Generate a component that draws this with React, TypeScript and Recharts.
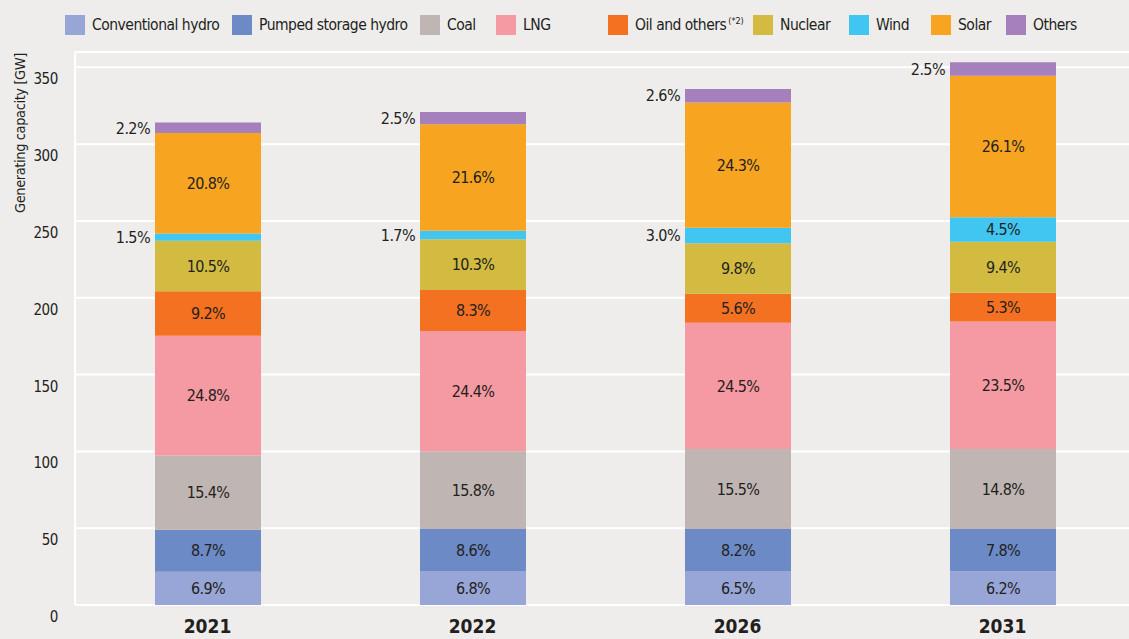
import { BarChart, Bar, XAxis, YAxis, CartesianGrid, LabelList } from "recharts";

const years = ["2021", "2022", "2026", "2031"];

// generating capacity per source, GW
const conventionalHydro = [21.7, 21.8, 21.8, 21.9];
const pumpedStorage = [27.3, 27.6, 27.6, 27.5];
const coal = [48.4, 50.7, 52.1, 52.2];
const lng = [77.9, 78.3, 82.3, 83.0];
const oilOthers = [28.9, 26.6, 18.8, 18.7];
const nuclear = [33.0, 33.1, 32.9, 33.2];
const wind = [4.7, 5.5, 10.1, 15.9];
const solar = [65.3, 69.3, 81.6, 92.1];
const others = [6.9, 8.0, 8.7, 8.8];

// share labels printed on the bars
const conventionalHydroShare = ["6.9%", "6.8%", "6.5%", "6.2%"];
const pumpedStorageShare = ["8.7%", "8.6%", "8.2%", "7.8%"];
const coalShare = ["15.4%", "15.8%", "15.5%", "14.8%"];
const lngShare = ["24.8%", "24.4%", "24.5%", "23.5%"];
const oilOthersShare = ["9.2%", "8.3%", "5.6%", "5.3%"];
const nuclearShare = ["10.5%", "10.3%", "9.8%", "9.4%"];
const windShare = ["1.5%", "1.7%", "3.0%", "4.5%"];
const solarShare = ["20.8%", "21.6%", "24.3%", "26.1%"];
const othersShare = ["2.2%", "2.5%", "2.6%", "2.5%"];

const yTicks = [0, 50, 100, 150, 200, 250, 300, 350];

const series = [
  { key: "conventionalHydro", name: "Conventional hydro", color: "#97a6d6", values: conventionalHydro, shares: conventionalHydroShare },
  { key: "pumpedStorage", name: "Pumped storage hydro", color: "#6b8ac6", values: pumpedStorage, shares: pumpedStorageShare },
  { key: "coal", name: "Coal", color: "#bfb5b2", values: coal, shares: coalShare },
  { key: "lng", name: "LNG", color: "#f599a2", values: lng, shares: lngShare },
  { key: "oilOthers", name: "Oil and others", color: "#f47121", values: oilOthers, shares: oilOthersShare, note: "(*2)" },
  { key: "nuclear", name: "Nuclear", color: "#d2bb40", values: nuclear, shares: nuclearShare },
  { key: "wind", name: "Wind", color: "#40c6f0", values: wind, shares: windShare },
  { key: "solar", name: "Solar", color: "#f7a520", values: solar, shares: solarShare },
  { key: "others", name: "Others", color: "#a580bc", values: others, shares: othersShare },
];

// legend slot widths, to space the items like the original
const legendWidths: Record<string, number> = {
  conventionalHydro: 167,
  pumpedStorage: 188,
  coal: 76,
  lng: 112,
  oilOthers: 145,
  nuclear: 96,
  wind: 82,
  solar: 75,
  others: 90,
};

const data = years.map((year, i) => {
  const row: Record<string, string | number> = { year };
  series.forEach((s) => {
    row[s.key] = s.values[i];
    row[s.key + "Share"] = s.shares[i];
  });
  return row;
});

const FONT = "'DejaVu Sans Condensed', 'Liberation Sans Narrow', sans-serif";
const TEXT = "#231f20";
const BG = "#eeedec";

const renderShare = (props: any) => {
  const x = Number(props.x);
  const y = Number(props.y);
  const w = Number(props.width);
  const h = Number(props.height);
  const inside = h >= 20;
  return (
    <text
      x={inside ? x + w / 2 : x - 5}
      y={y + h / 2}
      dy="0.36em"
      textAnchor={inside ? "middle" : "end"}
      fontFamily={FONT}
      fontSize={16}
      letterSpacing={-0.6}
      fill={TEXT}
    >
      {props.value}
    </text>
  );
};

const YTick = (props: any) => (
  <text x={props.x} y={props.y} dy={17} textAnchor="end" fontFamily={FONT} fontSize={15} letterSpacing={-0.4} fill={TEXT}>
    {props.payload.value}
  </text>
);

const XTick = (props: any) => (
  <text x={props.x} y={props.y} dy={20} textAnchor="middle" fontFamily={FONT} fontSize={19} fontWeight="bold" fill={TEXT}>
    {props.payload.value}
  </text>
);

export default function App() {
  return (
    <div style={{ position: "fixed", left: 0, top: 0, width: 1129, height: 639, overflow: "hidden", background: BG }}>
      <div
        style={{
          position: "absolute",
          top: 15,
          left: 65,
          display: "flex",
          alignItems: "center",
          fontFamily: FONT,
          fontSize: 15.5,
          letterSpacing: -0.5,
          color: TEXT,
          whiteSpace: "nowrap",
        }}
      >
        {series.map((s) => (
          <div key={s.key} style={{ display: "flex", alignItems: "center", width: legendWidths[s.key] }}>
            <span style={{ width: 20, height: 20, background: s.color, marginRight: 7, display: "inline-block", flexShrink: 0 }} />
            <span>
              {s.name}
              {s.note && <sup style={{ fontSize: 9, marginLeft: 2, letterSpacing: 0 }}>{s.note}</sup>}
            </span>
          </div>
        ))}
      </div>

      <BarChart
        width={1135}
        height={639}
        data={data}
        margin={{ top: 52, right: 0, left: 0, bottom: 0 }}
        barSize={106}
      >
        <CartesianGrid vertical={false} stroke="#ffffff" strokeWidth={2} />
        <XAxis dataKey="year" axisLine={false} tickLine={false} height={34} tick={<XTick />} />
        <YAxis
          domain={[0, 360]}
          ticks={yTicks}
          width={75}
          tickLine={false}
          axisLine={{ stroke: "#ffffff", strokeWidth: 2 }}
          tickMargin={11}
          tick={<YTick />}
          label={({ viewBox }: any) => (
            <text
              x={viewBox.x + 25}
              y={viewBox.y + 81}
              transform={`rotate(-90, ${viewBox.x + 25}, ${viewBox.y + 81})`}
              textAnchor="middle"
              fontFamily={FONT}
              fontSize={14.5}
              letterSpacing={-0.4}
              fill={TEXT}
            >
              Generating capacity [GW]
            </text>
          )}
        />
        {series.map((s) => (
          <Bar key={s.key} dataKey={s.key} name={s.name} stackId="a" fill={s.color} isAnimationActive={false}>
            <LabelList dataKey={s.key + "Share"} content={renderShare} />
          </Bar>
        ))}
      </BarChart>
    </div>
  );
}
